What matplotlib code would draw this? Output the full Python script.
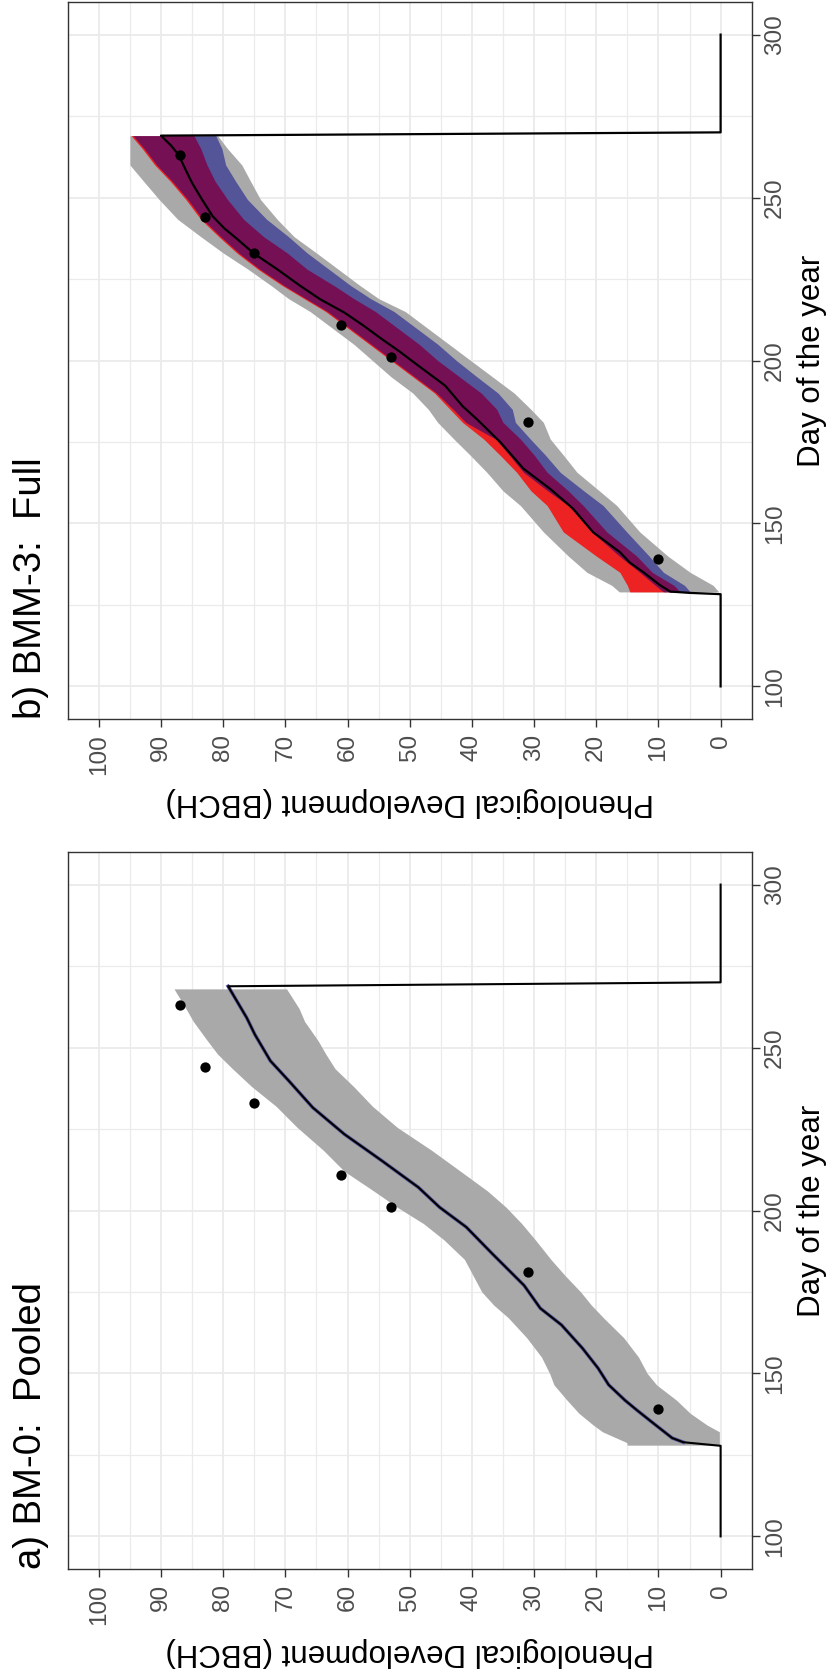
import numpy as np
import matplotlib.pyplot as plt
from matplotlib.ticker import MultipleLocator

plt.rcParams["font.family"] = ["Liberation Sans", "DejaVu Sans"]

# observed BBCH stages in the field
obs_day = [139, 181, 201, 211, 233, 244, 263]
obs_bbch = [10, 31, 53, 61, 75, 83, 87]

# BM-0 (pooled): median prediction
a_line_day = [100, 127.8, 128.9, 130.2, 134.7, 138.8, 141.8, 146.5, 151.6, 157.7, 164.9,
              170.0, 177.0, 186.7, 194.9, 201.0, 207.1, 215.3, 223.4, 231.6, 239.7,
              245.9, 254.0, 259.1, 268.8, 270, 300]
a_line_bbch = [0, 0, 6.0, 7.8, 10.8, 13.5, 15.4, 18.0, 19.7, 22.2, 25.6,
               29.0, 31.6, 36.7, 40.9, 45.2, 48.6, 54.5, 60.5, 65.6, 69.4,
               72.4, 74.9, 76.2, 79.2, 0, 0]

# BM-0 (pooled): prediction interval
a_band_day = [128.0, 128.8, 132.1, 134.2, 137.8, 141.8, 146.5, 150.0, 155.0, 161.0, 167.0,
              171.0, 175.0, 180.0, 185.0, 191.0, 196.0, 201.0, 206.0, 212.0, 218.5,
              225.5, 232.0, 238.0, 243.5, 248.0, 252.0, 258.0, 262.0, 268.0]
a_band_lo = [0.2, 0.2, 0.2, 2.2, 4.9, 7.1, 10.3, 11.8, 13.2, 15.6, 18.8,
             20.8, 22.5, 25.0, 27.3, 29.8, 32.0, 34.5, 37.5, 41.8, 46.5,
             52.0, 56.0, 59.0, 62.0, 63.5, 64.7, 66.9, 67.8, 69.8]
a_band_hi = [15.0, 15.1, 19.0, 20.5, 22.8, 24.7, 26.8, 27.5, 28.8, 31.2, 34.1,
             36.5, 38.4, 39.8, 41.2, 44.5, 47.8, 52.0, 55.8, 60.5, 63.9,
             68.1, 71.5, 75.4, 78.5, 80.9, 82.5, 84.8, 86.0, 87.9]

# BMM-3 (full): median prediction
b_line_day = [100, 128.3, 128.7, 129.1, 131, 135, 138, 141.2, 147.3, 154.5, 160.6,
              166.8, 174.9, 182.0, 186.0, 192.3, 198.4, 203.0, 206.6, 210.8, 214.7,
              218.8, 222.9, 228.0, 232.9, 237.2, 240.7, 244.3, 249.4, 254.5, 258.0,
              263.2, 266.0, 269.0, 270, 300]
b_line_bbch = [0, 0, 5.0, 8.1, 9.7, 12.4, 14.6, 16.2, 20.5, 23.7, 27.4,
               31.7, 35.4, 39.2, 41.5, 44.3, 48.6, 51.8, 54.5, 57.5, 60.5,
               64.4, 67.6, 71.3, 75.1, 77.7, 79.9, 81.7, 83.4, 85.0, 85.9,
               87.2, 88.4, 90.0, 0, 0]

# BMM-3 (full): interval limits for the three layers
b_band_day = [129.0, 131.0, 135.0, 140.0, 147.4, 155.5, 160.0, 165.7, 171.0, 175.9,
              181.0, 185.0, 190.0, 195.0, 200.0, 205.0, 210.0, 215.0, 219.0, 223.0,
              228.0, 233.0, 238.0, 243.3, 249.4, 255.0, 260.0, 265.0, 269.0]
b_grey_lo = [0.3, 1.2, 4.9, 8.5, 13.0, 16.7, 19.5, 23.1, 25.3, 27.4,
             28.5, 30.5, 33.2, 36.7, 40.2, 43.7, 47.2, 50.7, 55.0, 58.0,
             61.5, 65.0, 68.6, 71.3, 74.0, 75.6, 77.0, 79.3, 80.9]
b_grey_hi = [16.3, 17.5, 21.5, 24.5, 28.5, 32.2, 35.0, 37.6, 40.3, 42.9,
             45.5, 47.0, 49.5, 53.0, 56.0, 59.0, 62.5, 66.0, 69.5, 72.3,
             76.0, 80.0, 83.6, 87.3, 90.3, 92.8, 95.0, 95.0, 95.0]
b_red_lo = [6.5, 7.5, 11.0, 13.5, 18.3, 22.1, 24.5, 27.9, 30.0, 32.2,
            35.0, 36.0, 38.5, 42.0, 45.5, 48.5, 52.0, 55.5, 59.0, 62.2,
            66.5, 69.7, 73.5, 76.7, 79.3, 81.3, 82.6, 83.6, 84.7]
b_red_hi = [14.6, 15.0, 16.2, 20.0, 25.3, 27.9, 30.5, 32.8, 35.5, 38.1,
            41.5, 43.5, 46.0, 49.5, 53.0, 56.5, 60.0, 63.5, 67.0, 70.5,
            74.4, 77.8, 80.7, 83.6, 86.0, 88.5, 91.0, 93.0, 94.8]
b_blue_lo = [4.9, 5.8, 9.2, 11.5, 15.1, 18.9, 22.0, 25.8, 28.2, 30.6,
             33.0, 33.5, 35.8, 39.2, 42.5, 45.5, 49.0, 52.5, 56.3, 59.5,
             63.0, 66.5, 69.5, 73.0, 76.1, 78.0, 79.6, 80.2, 81.2]
b_blue_hi = [9.2, 10.5, 13.0, 16.3, 20.7, 24.5, 27.8, 31.7, 34.0, 36.2,
             41.0, 43.0, 45.7, 49.2, 52.7, 56.2, 59.7, 63.2, 66.7, 70.2,
             74.1, 77.5, 80.4, 83.3, 85.7, 88.2, 90.7, 92.7, 94.5]

bbch_ticks = list(range(0, 101, 10))
day_ticks = [100, 150, 200, 250, 300]

GREY = "#a9a9a9"
FRAME = "#333333"
TICK_TXT = "#4d4d4d"
GRID = "#ebebeb"


def style_panel(ax, title):
    # BBCH runs right-to-left along the bottom, day of year runs upwards
    ax.set_xlim(105, -5)
    ax.set_ylim(90, 310)
    ax.set_xticks(bbch_ticks)
    ax.set_yticks(day_ticks)
    ax.xaxis.set_minor_locator(MultipleLocator(5))
    ax.yaxis.set_minor_locator(MultipleLocator(25))
    ax.yaxis.tick_right()
    ax.grid(which="major", color=GRID, lw=1.3)
    ax.grid(which="minor", color=GRID, lw=0.9)
    ax.set_axisbelow(True)
    for sp in ax.spines.values():
        sp.set_color(FRAME)
        sp.set_linewidth(1.0)
    ax.tick_params(which="major", length=6, width=1.0, color=FRAME,
                   labelcolor=TICK_TXT, labelsize=17.5)
    ax.tick_params(which="minor", length=0)
    ax.tick_params(axis="x", labelrotation=90, pad=5)
    ax.tick_params(axis="y", labelrotation=90, pad=3)
    for lab in ax.get_yticklabels():
        lab.set_verticalalignment("center")
    ax.set_xlabel("Phenological Development (BBCH)", fontsize=22.5,
                  rotation=180, va="center", ha="center")
    ax.xaxis.set_label_coords(0.5, -83 / 717)
    ax.set_ylabel("Day of the year", fontsize=22.5, rotation=90,
                  va="center", ha="center")
    ax.yaxis.set_label_coords(1.0877, 0.5)
    ax.text(-0.053, 0.0, title, transform=ax.transAxes, rotation=90,
            ha="center", va="bottom", fontsize=27.5)


fig = plt.figure(figsize=(8.3, 16.78), dpi=100)
ax_b = fig.add_axes([67.7 / 830, 1 - 719 / 1678, 684 / 830, 717 / 1678])
ax_a = fig.add_axes([67.7 / 830, 1 - 1569 / 1678, 684 / 830, 717 / 1678])

# a) pooled model
ax_a.fill_betweenx(a_band_day, a_band_lo, a_band_hi, color=GREY, lw=0)
ax_a.plot(a_line_bbch[2:-2], a_line_day[2:-2], color="#5a5aa0", lw=2.6)
ax_a.plot(a_line_bbch, a_line_day, color="black", lw=1.5)
ax_a.scatter(obs_bbch, obs_day, s=55, color="black", zorder=5, lw=0)
style_panel(ax_a, "a) BM-0:  Pooled")

# b) full model
ax_b.fill_betweenx(b_band_day, b_grey_lo, b_grey_hi, color=GREY, lw=0)
ax_b.fill_betweenx(b_band_day, b_red_lo, b_red_hi, color="red", alpha=0.8, lw=0)
ax_b.fill_betweenx(b_band_day, b_blue_lo, b_blue_hi, color="#000089", alpha=0.5, lw=0)
ax_b.plot(b_line_bbch, b_line_day, color="black", lw=1.6)
ax_b.scatter(obs_bbch, obs_day, s=55, color="black", zorder=5, lw=0)
style_panel(ax_b, "b) BMM-3:  Full")

fig.savefig("out.png", dpi=100)
